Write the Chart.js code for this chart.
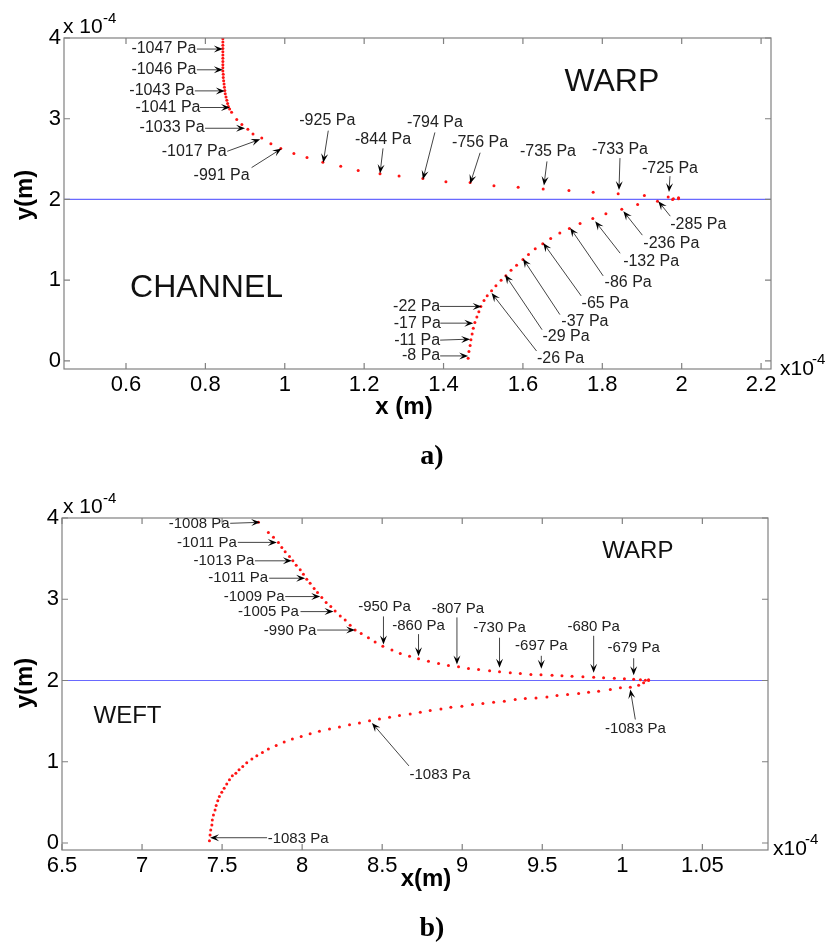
<!DOCTYPE html>
<html>
<head>
<meta charset="utf-8">
<script src="https://cdn.jsdelivr.net/npm/chart.js@4.4.1/dist/chart.umd.min.js"></script>
<style>
  body { margin: 0; background: #fff; width: 833px; height: 945px; position: relative; overflow: hidden; }
  canvas { position: absolute; left: 0; }
  #panelA { top: 0; }
  #panelB { top: 470px; }
  .tag { position: absolute; font: bold 28px "Liberation Serif", "Times New Roman", serif; color: #000; transform: translate(-50%, -50%); }
</style>
</head>
<body>
<canvas id="panelA" width="833" height="470"></canvas>
<canvas id="panelB" width="833" height="475"></canvas>
<div class="tag" style="left:432px;top:455px">a)</div>
<div class="tag" style="left:432px;top:927px">b)</div>
<script>
// ---- data (x and y in units of 1e-4 m) ----
// panel a, warp side
var warpAX = [0.844,0.844,0.844,0.844,0.844,0.844,0.844,0.844,0.844,0.844,0.844,0.845,0.845,0.846,0.847,0.848,0.849,0.850,0.852,0.854,0.856,0.858,0.861,
              0.866,0.879,0.892,0.907,0.920,0.942,0.965,0.990,1.023,1.056,1.096,1.141,1.185,1.240,1.288,1.348,1.406,1.467,1.527,1.588,1.651,1.716,1.777,1.840,1.906,1.966,1.979,1.992];
var warpAY = [3.99,3.95,3.91,3.87,3.83,3.79,3.75,3.71,3.67,3.63,3.59,3.55,3.51,3.47,3.43,3.39,3.35,3.31,3.27,3.23,3.19,3.15,3.12,
              3.08,2.99,2.93,2.87,2.81,2.76,2.69,2.63,2.57,2.52,2.46,2.41,2.36,2.32,2.29,2.26,2.22,2.21,2.17,2.15,2.13,2.11,2.09,2.07,2.05,2.03,2.01,2.02];
// panel a, channel side
var chanAX = [1.462,1.464,1.467,1.469,1.472,1.475,1.479,1.484,1.489,1.494,1.502,1.510,1.521,1.532,1.545,1.557,1.570,1.584,1.600,1.614,1.631,1.650,1.670,1.693,1.717,1.744,1.776,1.809,1.849,1.889,1.939,1.977,1.992];
var chanAY = [0.034,0.116,0.190,0.261,0.335,0.406,0.476,0.543,0.609,0.675,0.749,0.807,0.870,0.932,0.998,1.056,1.122,1.184,1.255,1.317,1.391,1.450,1.516,1.586,1.640,1.702,1.764,1.822,1.880,1.938,1.979,2.000,2.009];
// panel b, warp side
var warpBX = [7.727,7.789,7.821,7.852,7.873,7.894,7.921,7.942,7.963,7.988,8.008,8.029,8.050,8.075,8.096,8.123,8.150,8.179,8.206,8.238,8.269,8.300,8.331,8.369,8.414,8.456,8.504,8.561,8.613,8.671,8.727,8.789,8.852,8.914,8.977,
              9.039,9.102,9.171,9.233,9.300,9.363,9.429,9.492,9.561,9.623,9.686,9.754,9.821,9.883,9.950,10.013,10.071,10.113,10.144,10.164];
var warpBY = [3.947,3.823,3.762,3.700,3.638,3.584,3.527,3.473,3.420,3.362,3.309,3.247,3.198,3.132,3.083,3.021,2.959,2.910,2.856,2.794,2.744,2.679,2.621,2.577,2.527,2.473,2.423,2.374,2.333,2.300,2.268,2.238,2.210,2.185,2.169,
              2.148,2.136,2.120,2.107,2.095,2.086,2.074,2.070,2.065,2.058,2.053,2.046,2.040,2.033,2.027,2.021,2.016,2.009,2.004,2.009];
// panel b, weft side
var weftBX = [7.421,7.425,7.429,7.436,7.439,7.446,7.456,7.463,7.473,7.483,7.498,7.513,7.529,7.546,7.564,7.586,7.606,7.629,7.654,7.686,7.717,7.752,7.789,7.838,7.888,7.939,7.994,8.050,8.108,8.171,8.233,8.296,8.358,8.421,8.483,8.546,8.608,8.675,8.738,8.800,
              8.867,8.929,8.998,9.064,9.129,9.196,9.263,9.331,9.394,9.461,9.529,9.592,9.658,9.727,9.789,9.852,9.925,9.988,10.050,10.102,10.133,10.164];
var weftBY = [0.028,0.099,0.160,0.222,0.284,0.346,0.407,0.461,0.519,0.572,0.626,0.675,0.725,0.778,0.827,0.860,0.901,0.942,0.988,1.033,1.074,1.115,1.157,1.201,1.243,1.280,1.312,1.346,1.374,1.404,1.428,1.457,1.477,1.506,1.527,1.547,1.568,1.589,1.609,1.630,
              1.650,1.670,1.683,1.704,1.716,1.732,1.745,1.765,1.778,1.786,1.798,1.815,1.827,1.840,1.856,1.868,1.889,1.910,1.918,1.942,1.971,2.000];
var interfaceY = 2;

// pressure labels and the points they mark
var pressA = ['-1047 Pa','-1046 Pa','-1043 Pa','-1041 Pa','-1033 Pa','-1017 Pa','-991 Pa','-925 Pa','-844 Pa','-794 Pa','-756 Pa','-735 Pa','-733 Pa','-725 Pa',
              '-285 Pa','-236 Pa','-132 Pa','-86 Pa','-65 Pa','-37 Pa','-29 Pa','-26 Pa','-22 Pa','-17 Pa','-11 Pa','-8 Pa'];
var pressAX = [0.844,0.844,0.849,0.862,0.900,0.938,0.992,1.097,1.240,1.348,1.467,1.653,1.842,1.968,1.941,1.853,1.782,1.719,1.651,1.600,1.555,1.521,1.496,1.475,1.467,1.462];
var pressAY = [3.863,3.606,3.345,3.139,2.882,2.745,2.630,2.456,2.323,2.248,2.195,2.174,2.116,2.091,1.979,1.855,1.730,1.648,1.462,1.267,1.068,0.841,0.675,0.468,0.270,0.062];
var pressB = ['-1008 Pa','-1011 Pa','-1013 Pa','-1011 Pa','-1009 Pa','-1005 Pa','-990 Pa','-950 Pa','-860 Pa','-807 Pa','-730 Pa','-697 Pa','-680 Pa','-679 Pa','-1083 Pa','-1083 Pa','-1083 Pa'];
var pressBX = [7.738,7.842,7.936,8.019,8.113,8.196,8.331,8.508,8.727,8.967,9.233,9.494,9.821,10.071,10.050,8.436,7.425];
var pressBY = [3.947,3.700,3.473,3.259,3.033,2.848,2.621,2.444,2.300,2.198,2.157,2.144,2.095,2.065,1.889,1.478,0.065];

// ticks
var yTicks = [0, 1, 2, 3, 4];
var yTickLabels = ['0', '1', '2', '3', '4'];
var xTicksA = [0.6, 0.8, 1, 1.2, 1.4, 1.6, 1.8, 2, 2.2];
var xTickLabelsA = ['0.6', '0.8', '1', '1.2', '1.4', '1.6', '1.8', '2', '2.2'];
var xTicksB = [6.5, 7, 7.5, 8, 8.5, 9, 9.5, 10, 10.5];
var xTickLabelsB = ['6.5', '7', '7.5', '8', '8.5', '9', '9.5', '1', '1.05'];

// ---- layout: arrow tail / text centre offsets from the tip, in px ----
var arrowsA = [[-26,0,-59,0],[-26,0,-59,0],[-30,0,-63,0],[-30,0,-62,0],[-40,0,-73,-1],[-33,12,-66,12],[-30,19,-60,27],
               [5,-32,4,-42],[3,-25,3,-34],[12,-47,12,-57],[10,-31,10,-41],[3,-24,4,-34],[1,-32,1,-41],[1,-16,1,-24],
               [12,15,40,23],[19,24,48,32],[25,32,56,40],[33,48,58,55],[38,53,62,61],[37,56,62,63],[37,55,61,62],[45,58,69,66],
               [-42,0,-65,0],[-33,0,-56,0],[-30,1,-53,1],[-28,0,-47,0]];
var arrowsB = [[-30,1,-61,2],[-39,0,-70,0],[-37,0,-68,0],[-36,0,-67,0],[-35,0,-66,0],[-33,0,-65,0],[-38,0,-65,1],
               [0,-28,1,-38],[0,-22,0,-30],[0,-47,1,-56],[0,-30,0,-40],[0,-13,0,-23],[0,-37,0,-46],[0,-17,0,-27],
               [5,30,5,39],[37,43,68,52],[57,0,88,1]];

var FONT = '"Liberation Sans", Arial, sans-serif';

function pts(xs, ys) {
    return xs.map(function (x, i) { return {x: x, y: ys[i]}; });
}

function drawArrow(ctx, x0, y0, x1, y1) {
    var ang = Math.atan2(y1 - y0, x1 - x0), L = 9, W = 3.5;
    ctx.strokeStyle = '#444';
    ctx.lineWidth = 1;
    ctx.beginPath();
    ctx.moveTo(x0, y0);
    ctx.lineTo(x1 - Math.cos(ang) * L * 0.6, y1 - Math.sin(ang) * L * 0.6);
    ctx.stroke();
    ctx.save();
    ctx.translate(x1, y1);
    ctx.rotate(ang);
    ctx.fillStyle = '#000';
    ctx.beginPath();
    ctx.moveTo(0, 0);
    ctx.lineTo(-L, -W);
    ctx.lineTo(-L * 0.6, 0);
    ctx.lineTo(-L, W);
    ctx.closePath();
    ctx.fill();
    ctx.restore();
}

function decor(p) {
    return {
        id: 'decor',
        afterDatasetsDraw: function (chart) {
            var ctx = chart.ctx, a = chart.chartArea, xs = chart.scales.x, ys = chart.scales.y;
            ctx.save();
            // box + inward ticks
            ctx.strokeStyle = '#808080';
            ctx.lineWidth = 1.2;
            ctx.strokeRect(a.left, a.top, a.right - a.left, a.bottom - a.top);
            ctx.beginPath();
            p.xTicks.forEach(function (v) {
                var px = xs.getPixelForValue(v);
                ctx.moveTo(px, a.bottom); ctx.lineTo(px, a.bottom - 6);
                ctx.moveTo(px, a.top); ctx.lineTo(px, a.top + 6);
            });
            yTicks.forEach(function (v) {
                var py = ys.getPixelForValue(v);
                ctx.moveTo(a.left, py); ctx.lineTo(a.left + 6, py);
                ctx.moveTo(a.right, py); ctx.lineTo(a.right - 6, py);
            });
            ctx.stroke();

            // pressure annotations
            ctx.font = p.noteSize + 'px ' + FONT;
            ctx.textAlign = 'center';
            ctx.textBaseline = 'middle';
            p.labels.forEach(function (t, i) {
                var tx = xs.getPixelForValue(p.tipX[i]), ty = ys.getPixelForValue(p.tipY[i]);
                var l = p.arrows[i];
                drawArrow(ctx, tx + l[0], ty + l[1], tx, ty);
                ctx.fillStyle = '#222';
                ctx.fillText(t, tx + l[2], ty + l[3]);
            });

            // region names
            ctx.fillStyle = '#111';
            p.regions.forEach(function (r) {
                ctx.font = r[3] + 'px ' + FONT;
                ctx.fillText(r[0], xs.getPixelForValue(r[1]), ys.getPixelForValue(r[2]));
            });

            // exponent markers
            ctx.textAlign = 'left';
            ctx.textBaseline = 'alphabetic';
            ctx.fillStyle = '#000';
            ctx.font = '21px ' + FONT;
            ctx.fillText('x 10', p.expTop[0], p.expTop[1]);
            ctx.fillText('x10', p.expRight[0], p.expRight[1]);
            ctx.font = '15px ' + FONT;
            ctx.fillText('-4', p.expTop[0] + 40, p.expTop[1] - 10);
            ctx.fillText('-4', p.expRight[0] + 32, p.expRight[1] - 11);

            // axis titles
            ctx.font = 'bold 24px ' + FONT;
            ctx.textAlign = 'center';
            ctx.textBaseline = 'middle';
            ctx.fillText(p.xTitle, p.xTitlePos[0], p.xTitlePos[1]);
            ctx.translate(25, p.yTitleY);
            ctx.rotate(-Math.PI / 2);
            ctx.fillText('y(m)', 0, 0);
            ctx.restore();
        }
    };
}

function makePanel(id, p) {
    var dot = {pointRadius: 1.5, pointBorderWidth: 0, pointBackgroundColor: 'rgb(255,20,20)', showLine: false};
    return new Chart(document.getElementById(id), {
        type: 'scatter',
        data: {
            datasets: [
                Object.assign({data: pts(p.upperX, p.upperY)}, dot),
                Object.assign({data: pts(p.lowerX, p.lowerY)}, dot),
                {data: [{x: p.xMin, y: interfaceY}, {x: p.xMax, y: interfaceY}], showLine: true,
                 borderColor: 'rgb(105,105,255)', borderWidth: 1.2, pointRadius: 0}
            ]
        },
        options: {
            responsive: false,
            animation: false,
            layout: {padding: p.pad},
            plugins: {legend: {display: false}, tooltip: {enabled: false}},
            scales: {
                x: {
                    type: 'linear', min: p.xMin, max: p.xMax,
                    afterBuildTicks: function (s) { s.ticks = p.xTicks.map(function (v) { return {value: v}; }); },
                    afterFit: function (s) { s.height = p.xHeight; },
                    grid: {display: false, drawTicks: false},
                    border: {display: false},
                    ticks: {autoSkip: false, maxRotation: 0, padding: 3, color: '#000', font: {family: FONT, size: 22},
                            callback: function (v, i) { return p.xLabels[i]; }}
                },
                y: {
                    type: 'linear', min: p.yMin, max: 4,
                    afterBuildTicks: function (s) { s.ticks = yTicks.map(function (v) { return {value: v}; }); },
                    afterFit: function (s) { s.width = p.yWidth; },
                    grid: {display: false, drawTicks: false},
                    border: {display: false},
                    ticks: {padding: 3, color: '#000', font: {family: FONT, size: 22},
                            callback: function (v, i) { return yTickLabels[i]; }}
                }
            }
        },
        plugins: [decor(p)]
    });
}

makePanel('panelA', {
    upperX: warpAX, upperY: warpAY, lowerX: chanAX, lowerY: chanAY,
    xMin: 0.4438, xMax: 2.225, yMin: -0.1, xTicks: xTicksA, xLabels: xTickLabelsA,
    labels: pressA, tipX: pressAX, tipY: pressAY, arrows: arrowsA, noteSize: 16,
    regions: [['WARP', 1.824, 3.45, 32], ['CHANNEL', 0.803, 0.907, 32]],
    pad: {left: 0, top: 38, right: 62, bottom: 0}, xHeight: 101, yWidth: 64,
    expTop: [63, 33], expRight: [780, 375], xTitle: 'x (m)', xTitlePos: [404, 407], yTitleY: 195
});

makePanel('panelB', {
    upperX: warpBX, upperY: warpBY, lowerX: weftBX, lowerY: weftBY,
    xMin: 6.5, xMax: 10.91, yMin: -0.086, xTicks: xTicksB, xLabels: xTickLabelsB,
    labels: pressB, tipX: pressBX, tipY: pressBY, arrows: arrowsB, noteSize: 15,
    regions: [['WARP', 10.097, 3.59, 24], ['WEFT', 6.909, 1.556, 24]],
    pad: {left: 0, top: 48, right: 65, bottom: 0}, xHeight: 95, yWidth: 62,
    expTop: [63, 43], expRight: [773, 385], xTitle: 'x(m)', xTitlePos: [426, 409], yTitleY: 213
});
</script>
</body>
</html>
